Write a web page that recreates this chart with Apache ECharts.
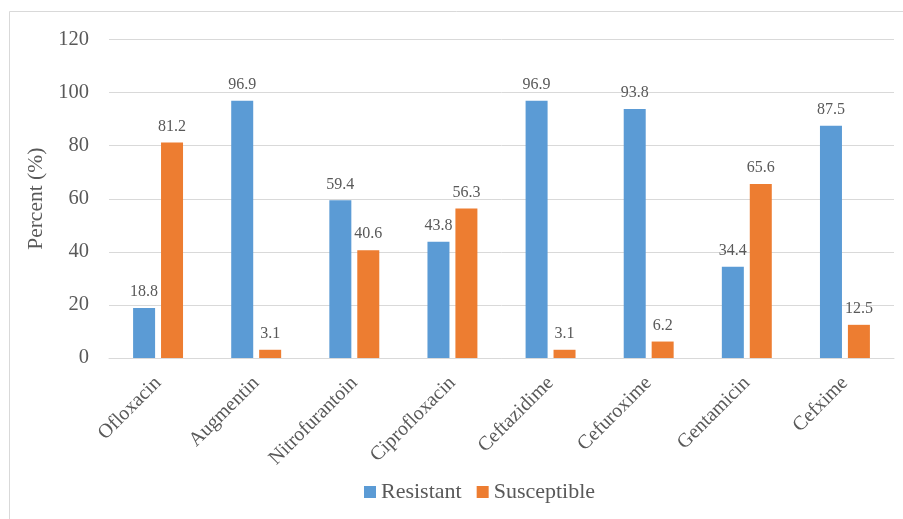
<!DOCTYPE html>
<html><head><meta charset="utf-8">
<script src="https://cdn.jsdelivr.net/npm/echarts@6/dist/echarts.min.js"></script>
<style>html,body{margin:0;padding:0;background:#fff}#c{width:903px;height:519px}</style>
</head><body><div id="c"></div>
<script>
const categories = ['Ofloxacin','Augmentin','Nitrofurantoin','Ciprofloxacin','Ceftazidime','Cefuroxime','Gentamicin','Cefxime'];
const resistant = [18.8, 96.9, 59.4, 43.8, 96.9, 93.8, 34.4, 87.5];
const susceptible = [81.2, 3.1, 40.6, 56.3, 3.1, 6.2, 65.6, 12.5];
const yTicks = [0, 20, 40, 60, 80, 100, 120];

const FONT = '"Liberation Serif", "Times New Roman", serif';
const TXT = '#595959';
const chart = echarts.init(document.getElementById('c'), null, {renderer:'canvas'});
const labelCfg = {show:true, position:'top', distance:8, color:TXT, fontFamily:FONT, fontSize:16};
chart.setOption({
  animation:false,
  textStyle:{fontFamily:FONT},
  graphic:[{type:'rect', shape:{x:9.5,y:11.5,width:1200,height:1200}, style:{fill:'none', stroke:'#d9d9d9', lineWidth:1}, silent:true, z:-1}],
  grid:{left:109, right:9, top:39.5, bottom:161},
  legend:{left:364, top:481, padding:0, itemWidth:12, itemHeight:12, itemGap:15, icon:'rect',
    textStyle:{color:TXT, fontFamily:FONT, fontSize:22}, data:['Resistant','Susceptible']},
  xAxis:{type:'category', data:categories,
    axisLine:{lineStyle:{color:'#d9d9d9'}}, axisTick:{show:false},
    axisLabel:{rotate:45, interval:0, color:TXT, fontFamily:FONT, fontSize:20, margin:22}},
  yAxis:{type:'value', min:yTicks[0], max:yTicks[yTicks.length-1], interval:20,
    name:'Percent (%)', nameLocation:'middle', nameGap:55, nameRotate:90,
    nameTextStyle:{color:TXT, fontFamily:FONT, fontSize:21.5},
    axisLine:{show:false}, axisTick:{show:false},
    axisLabel:{color:TXT, fontFamily:FONT, fontSize:20.5, margin:20},
    splitLine:{lineStyle:{color:'#d9d9d9'}}},
  series:[
    {name:'Resistant', type:'bar', data:resistant, barWidth:22, barGap:'27%', itemStyle:{color:'#5b9bd5'}, label:labelCfg},
    {name:'Susceptible', type:'bar', data:susceptible, barWidth:22, barGap:'27%', itemStyle:{color:'#ed7d31'}, label:labelCfg}
  ]
});
</script></body></html>
